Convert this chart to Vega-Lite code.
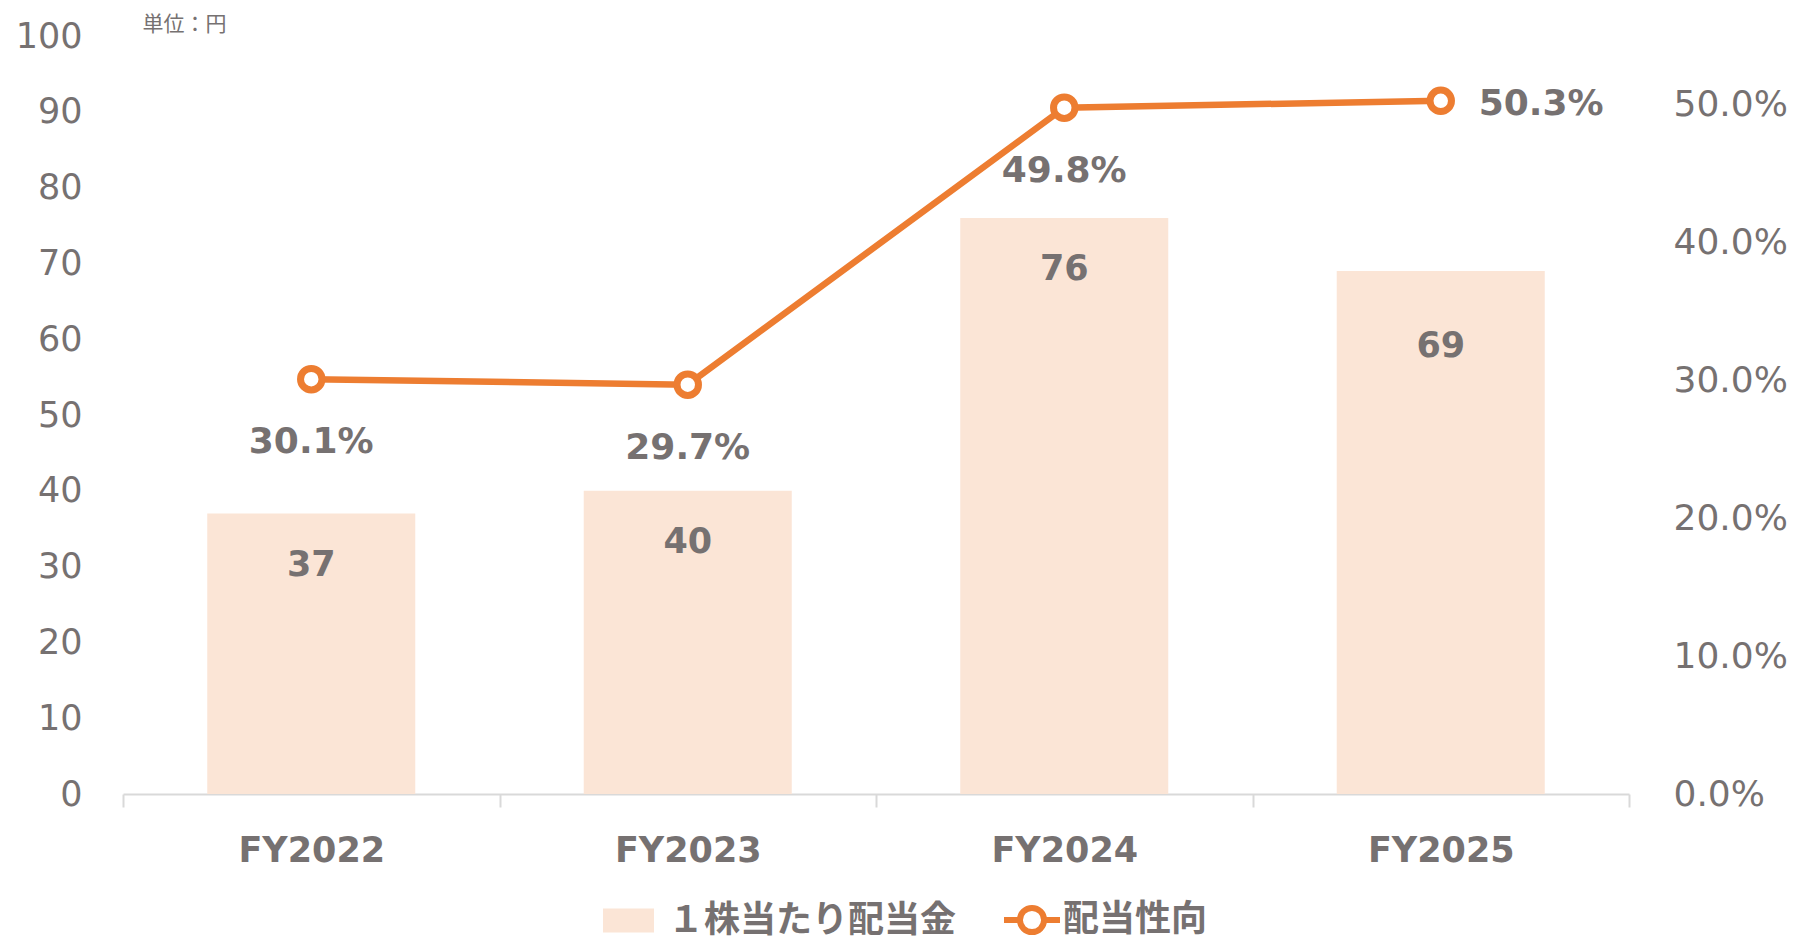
{
  "$schema": "https://vega.github.io/schema/vega-lite/v6.json",
  "width": 1506,
  "height": 758,
  "autosize": {"type": "none"},
  "padding": {"left": 123, "top": 36, "right": 168, "bottom": 147},
  "background": "#ffffff",
  "config": {
    "view": {"stroke": null},
    "font": "DejaVu Sans, Noto Sans CJK JP",
    "axis": {"labelFont": "DejaVu Sans, Noto Sans CJK JP", "titleFont": "Noto Sans CJK JP"},
    "legend": {"labelFont": "Noto Sans CJK JP"}
  },
  "data": {
    "values": [
      {"fy": "FY2022", "dps": 37, "payout": 0.301},
      {"fy": "FY2023", "dps": 40, "payout": 0.297},
      {"fy": "FY2024", "dps": 76, "payout": 0.498},
      {"fy": "FY2025", "dps": 69, "payout": 0.503}
    ]
  },
  "encoding": {
    "x": {
      "field": "fy",
      "type": "nominal",
      "sort": null,
      "scale": {"type": "band", "paddingInner": 0, "paddingOuter": 0},
      "axis": {
        "title": null,
        "labelAngle": 0,
        "labelFontSize": 35,
        "labelFontWeight": "bold",
        "labelColor": "#767171",
        "labelBaseline": "middle",
        "labelPadding": 43,
        "domainColor": "#D9D9D9",
        "domainWidth": 2,
        "tickColor": "#D9D9D9",
        "tickWidth": 2,
        "tickSize": 13,
        "tickBand": "extent",
        "grid": false
      }
    }
  },
  "layer": [
    {
      "encoding": {
        "y": {
          "field": "dps",
          "type": "quantitative",
          "scale": {"domain": [0, 100], "nice": false},
          "axis": {
            "orient": "left",
            "values": [0, 10, 20, 30, 40, 50, 60, 70, 80, 90, 100],
            "domain": false,
            "ticks": false,
            "grid": false,
            "labelFontSize": 35,
            "labelColor": "#767171",
            "labelPadding": 41,
            "title": "単位：円",
            "titleAngle": 0,
            "titleX": 19,
            "titleY": -12,
            "titleAlign": "left",
            "titleBaseline": "middle",
            "titleFontSize": 21,
            "titleFontWeight": "normal",
            "titleColor": "#767171"
          }
        }
      },
      "layer": [
        {
          "mark": {"type": "bar", "width": {"band": 0.5525}},
          "encoding": {
            "fill": {
              "datum": "１株当たり配当金",
              "scale": {"range": ["#FBE5D6"]},
              "legend": {
                "title": null,
                "orient": "none",
                "legendX": 480,
                "legendY": 859,
                "padding": 0,
                "symbolType": "M-1,-0.47H1V0.47H-1Z",
                "symbolSize": 2601,
                "symbolStrokeWidth": 0,
                "labelFontSize": 36,
                "labelFontWeight": "bold",
                "labelColor": "#767171",
                "labelOffset": 14,
                "labelLimit": 0
              }
            }
          }
        },
        {
          "transform": [{"filter": "datum.fy !== 'FY2025'"}],
          "mark": {"type": "text", "baseline": "middle", "dy": 51, "fontSize": 35, "fontWeight": "bold", "fill": "#767171", "font": "DejaVu Sans"},
          "encoding": {"text": {"field": "dps", "type": "quantitative"}}
        },
        {
          "transform": [{"filter": "datum.fy === 'FY2025'"}],
          "mark": {"type": "text", "baseline": "middle", "dy": 75, "fontSize": 35, "fontWeight": "bold", "fill": "#767171", "font": "DejaVu Sans"},
          "encoding": {"text": {"field": "dps", "type": "quantitative"}}
        }
      ]
    },
    {
      "encoding": {
        "y": {
          "field": "payout",
          "type": "quantitative",
          "scale": {"domain": [0, 0.55], "nice": false},
          "axis": {
            "orient": "right",
            "values": [0, 0.1, 0.2, 0.3, 0.4, 0.5],
            "format": ".1%",
            "domain": false,
            "ticks": false,
            "grid": false,
            "labelFontSize": 36,
            "labelColor": "#767171",
            "labelPadding": 44,
            "title": null
          }
        }
      },
      "layer": [
        {
          "mark": {"type": "line", "strokeWidth": 6.5},
          "encoding": {
            "stroke": {
              "datum": "配当性向",
              "scale": {"range": ["#ED7D31"]},
              "legend": {
                "title": null,
                "orient": "none",
                "legendX": 878,
                "legendY": 853,
                "padding": 0,
                "symbolType": "M-1,0H-0.43M0.43,0H1M-0.43,0A0.43,0.43,0,1,0,0.43,0A0.43,0.43,0,1,0,-0.43,0Z",
                "symbolSize": 3136,
                "symbolStrokeWidth": 6,
                "symbolFillColor": "#ffffff",
                "labelFontSize": 36,
                "labelFontWeight": "bold",
                "labelColor": "#767171",
                "labelOffset": 0,
                "labelLimit": 0
              }
            }
          }
        },
        {
          "mark": {"type": "point", "shape": "circle", "filled": false, "fill": "#ffffff", "fillOpacity": 1, "stroke": "#ED7D31", "strokeWidth": 7, "size": 460, "opacity": 1},
          "encoding": {}
        },
        {
          "transform": [{"filter": "datum.fy !== 'FY2025'"}],
          "mark": {"type": "text", "baseline": "middle", "dy": 63, "fontSize": 36, "fontWeight": "bold", "fill": "#767171", "font": "DejaVu Sans"},
          "encoding": {"text": {"field": "payout", "type": "quantitative", "format": ".1%"}}
        },
        {
          "transform": [{"filter": "datum.fy === 'FY2025'"}],
          "mark": {"type": "text", "baseline": "middle", "align": "left", "dx": 38, "dy": 3, "fontSize": 36, "fontWeight": "bold", "fill": "#767171", "font": "DejaVu Sans"},
          "encoding": {"text": {"field": "payout", "type": "quantitative", "format": ".1%"}}
        }
      ]
    }
  ],
  "resolve": {"scale": {"y": "independent"}}
}
